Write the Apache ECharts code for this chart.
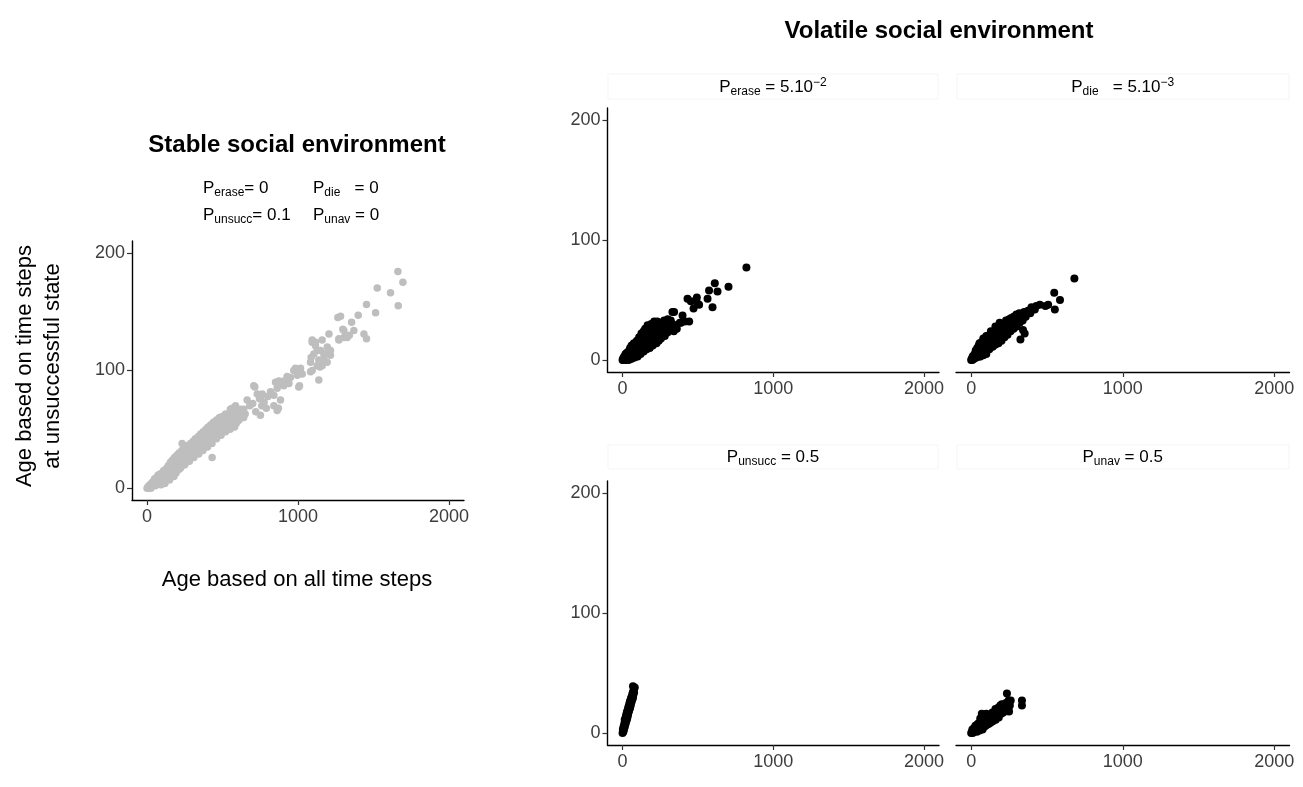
<!DOCTYPE html>
<html><head><meta charset="utf-8">
<script src="https://cdn.jsdelivr.net/npm/echarts@6/dist/echarts.min.js"></script>
<style>html,body{margin:0;padding:0;background:#fff}#c{width:1303px;height:787px}</style>
</head><body><div id="c"></div>
<script>
// ---------- data ----------
const xTicks = [0, 1000, 2000];
const yTicks = [0, 100, 200];

const stableTitle = 'Stable social environment';
const volatileTitle = 'Volatile social environment';
const xAxisTitle = 'Age based on all time steps';
const yAxisTitle = 'Age based on time steps\nat unsuccessful state';

// Stable social environment (grey)
const stable = [
[0,0],[5,1],[10,0],[12,2],[18,1],[20,3],[25,0],[28,4],[32,2],[35,5],[40,3],[42,6],[48,4],[50,8],[55,2],[58,6],[62,9],[65,4],[70,7],[72,11],[78,5],[80,9],[85,12],[88,7],[92,3],[95,10],[100,13],[102,6],[108,9],[110,15],[115,11],[118,4],[122,14],[125,8],[130,17],[132,12],[138,10],[140,19],[145,14],[148,7],[152,16],[155,22],[160,12],[162,18],[168,24],[170,15],[175,20],[178,10],[182,26],[185,17],[190,22],[192,13],[198,28],[200,19],[205,24],[210,16],[212,30],[218,21],[220,26],[225,18],[230,32],[232,38],[238,28],[240,20],[245,34],[248,25],[255,30],[258,22],[262,36],[265,27],[270,32],[275,24],[280,35],[282,29],[288,38],[290,31],[295,26],[300,34],[305,40],[308,28],[312,36],[318,32],[320,42],[325,30],[330,38],[335,34],[340,44],[342,29],[348,40],[350,36],[355,46],[360,33],[362,42],[368,38],[372,48],[375,35],[380,44],[385,40],[390,50],[392,37],[398,46],[400,42],[405,52],[410,39],[415,48],[418,44],[422,54],[428,41],[430,50],[431,26],[435,46],[440,56],[445,43],[450,52],[455,48],[460,58],[465,45],[470,54],[475,50],[480,60],[485,47],[490,56],[495,52],[500,61],[505,49],[510,58],[518,54],[520,63],[528,51],[535,60],[540,56],[548,64],[552,67],[555,53],[560,62],[564,68],[570,58],[575,66],[586,70],[585,60],[590,55],[600,64],[610,58],[620,67],[630,62],[640,60],
[150,20],[170,23],[190,25],[210,27],[230,28],[250,33],[270,35],[290,37],[310,39],[330,41],[350,43],[370,45],[390,47],[410,49],[430,53],[450,55],[470,57],[490,59],[510,61],[530,62],[550,60],[160,10],[190,15],[220,17],[250,20],[280,23],[310,26],[340,30],[370,32],[400,35],[430,38],[460,42],[490,45],[520,48],[550,50],[580,52],[600,57],[620,60],[650,63],[640,67],[610,63],
[663,75],[680,70],[700,72],[707,87],[714,86],[720,65],[730,80],[745,76],[751,77],[760,70],[763,80],[775,73],[790,68],[751,62],[800,78],[818,82],[840,79],[840,70],[862,66],[870,68],[884,75],
[851,90],[862,85],[873,91],[895,89],[906,87],[907,91],[928,92],[928,95],[940,89],[950,94],[972,100],[983,100],[983,102],[995,96],[1005,97],[1005,86],[1010,87],[1017,102],[1028,97],
[1083,99],[1083,107],[1087,111],[1094,100],[1094,124],[1094,126],[1105,114],[1116,121],[1116,124],[1127,104],[1127,117],[1138,92],[1138,109],[1145,103],[1149,108],[1149,117],[1160,104],[1160,126],[1171,110],[1171,114],[1182,114],[1193,107],[1194,120],[1204,117],[1205,131],[1215,113],[1215,117],
[1264,145],[1282,146],[1271,126],[1271,127],[1297,135],[1304,134],[1304,128],[1326,128],[1340,130],[1355,141],[1370,134],[1399,147],[1437,131],[1454,127],[1454,156],[1514,149],[1525,170],[1613,166],[1662,184],[1664,155],[1695,175]
];

// Volatile: P_erase = 5.10^-2
const pErase = [
[0,0],[3,1],[6,0],[8,2],[10,0],[12,3],[15,1],[18,4],[20,2],[22,0],[25,5],[28,3],[30,1],[32,6],[35,4],[38,2],[40,7],[42,5],[45,3],[48,8],[50,6],[52,1],[55,4],[58,9],[60,7],[62,3],[65,10],[68,5],[70,8],[72,2],[75,11],[78,6],[80,9],[82,4],[85,12],[88,7],[90,10],[92,5],[95,13],[98,8],[100,11],[102,6],[105,14],[108,9],[110,19],[112,7],[115,15],[118,10],[120,13],[125,22],[128,16],[130,11],[135,14],[138,9],[140,24],[145,12],[148,18],[150,26],[155,10],[158,19],[160,13],[165,16],[166,29],[168,20],[170,12],[175,17],[178,21],[180,14],[185,19],[188,23],[190,30],[195,20],[198,13],[200,24],[205,18],[206,28],[210,32],[212,15],[215,25],[220,19],[222,27],[228,21],[230,32],[232,17],[235,26],[240,23],[245,19],[248,28],[252,24],[258,21],[262,29],[265,25],[270,22],[275,27],[276,33],[280,24],[285,30],[290,26],[298,23],[300,34],[305,28],[315,25],[325,27],[331,40],[340,24],
[20,5],[30,6],[45,8],[55,10],[65,6],[75,9],[85,8],[95,10],[105,11],[115,12],[125,13],[135,18],[145,20],[155,16],[165,22],[175,24],[185,26],[195,27],[200,21],[210,24],[220,28],[230,25],[240,29],[250,31],[260,27],[270,30],[280,28],[290,31],[300,30],[310,31],[320,33],[330,30],[350,29],[360,26],[280,20],[255,18],[240,16],[225,14],[200,12],[180,10],[160,9],[140,7],[120,5],[100,3],[80,2],[60,1],[40,0],[115,17],[95,16],[75,14],[60,12],[50,10],
[342,40],[380,31],[387,31],[398,37],[413,32],[431,51],[442,32],[453,49],[471,43],[493,52],[497,47],[508,46],[564,51],[574,58],[597,44],[612,64],[630,57],[703,61],[822,77]
];

// Volatile: P_die = 5.10^-3
const pDie = [
[0,0],[4,1],[8,0],[10,3],[14,2],[18,4],[20,1],[24,5],[28,3],[30,6],[34,2],[38,7],[40,10],[44,8],[48,5],[50,9],[54,3],[55,14],[58,10],[60,7],[64,11],[68,6],[70,12],[74,8],[78,13],[80,18],[84,10],[88,14],[90,9],[94,15],[98,11],[100,20],[105,16],[108,12],[112,17],[115,10],[120,14],[124,18],[128,13],[130,24],[135,19],[138,15],[142,11],[145,20],[150,16],[155,22],[158,13],[160,28],[162,18],[166,23],[170,15],[175,20],[178,25],[182,17],[188,31],[188,22],[192,26],[196,19],[200,24],[205,28],[210,21],[215,26],[220,30],[225,23],[230,28],[235,32],[240,25],[245,30],[250,34],[255,27],[260,31],[265,35],[270,29],[275,33],[280,36],[285,30],[290,34],[298,38],[305,32],[310,36],[318,39],[325,34],[325,17],[332,38],[342,25],[350,40],[353,22],[360,36],[375,41],[390,39],[398,43],
[20,4],[30,8],[50,12],[70,15],[90,17],[110,20],[130,21],[150,24],[170,26],[190,28],[210,30],[230,33],[250,29],[270,32],[300,35],[320,37],[340,38],[360,39],[380,40],[100,5],[120,9],[140,12],[160,13],[180,14],[200,16],[220,19],[240,21],[260,24],[280,26],[300,28],[320,31],[340,33],[60,3],[80,4],[110,14],[150,19],[200,20],[250,26],
[398,44],[420,42],[430,45],[453,46],[490,45],[508,46],[548,56],[552,42],[586,50],[681,68]
];

// Volatile: P_unsucc = 0.5
const pUnsucc = [
[0,0],[4,1],[8,2],[2,3],[10,4],[6,5],[14,5],[10,6],[18,7],[12,8],[20,8],[16,9],[24,10],[14,11],[28,11],[20,12],[32,13],[22,14],[30,15],[36,15],[26,16],[38,17],[30,18],[42,18],[34,19],[46,20],[38,21],[50,21],[40,22],[54,23],[44,24],[56,25],[48,26],[60,26],[52,27],[64,28],[56,29],[68,29],[60,30],[70,31],[64,32],[72,33],[68,34],[74,35],[72,32],[69,39],[81,38],[76,34],[66,31],[58,28],[50,24],[44,20],[36,17],[28,13],[22,10],[16,7],[8,4],[3,1]
];

// Volatile: P_unav = 0.5
const pUnav = [
[0,0],[5,1],[8,3],[10,0],[15,2],[18,4],[20,1],[25,3],[28,6],[30,2],[35,5],[38,1],[40,7],[45,3],[48,8],[50,5],[55,2],[58,9],[60,6],[65,4],[68,10],[70,16],[72,7],[75,3],[78,11],[80,8],[85,5],[88,12],[90,15],[92,9],[95,6],[100,13],[105,10],[108,7],[112,14],[115,11],[120,8],[125,15],[128,12],[132,9],[138,16],[140,13],[145,10],[150,17],[155,14],[160,20],[162,11],[168,18],[172,15],[178,21],[182,13],[188,19],[192,23],[198,16],[202,24],[208,20],[212,17],[218,22],[225,19],[230,25],[236,33],[240,21],[247,27],[250,18],[255,23],[261,27],[335,27],[335,23],
[30,5],[50,8],[70,10],[90,12],[110,10],[130,14],[150,13],[170,18],[190,16],[210,21],[230,22],[245,20],[100,8],[120,11],[140,17],[160,15],[180,17],[200,19],[220,24],[250,24],[60,12],[80,14],[100,16],[40,4],[20,3]
];

// strip labels: [main, subscript, rest, superscript]
const stripLabels = [
  ['P', 'erase', ' = 5.10', '\u22122'],
  ['P', 'die', '   = 5.10', '\u22123'],
  ['P', 'unsucc', ' = 0.5', ''],
  ['P', 'unav', ' = 0.5', '']
];
// stable parameter labels: [sub, rest]
const stableParams = [
  ['erase', '= 0'], ['die', '   = 0'],
  ['unsucc', '= 0.1'], ['unav', ' = 0']
];

// ---------- layout ----------
const FONT = 'Liberation Sans, Arial, Helvetica, sans-serif';
const grids = [
  {left: 132, top: 241, width: 332, height: 259},
  {left: 607.5, top: 108, width: 331.5, height: 264},
  {left: 956, top: 108, width: 333.5, height: 264},
  {left: 607.5, top: 481, width: 331.5, height: 264},
  {left: 956, top: 481, width: 333.5, height: 264}
];
const seriesData = [stable, pErase, pDie, pUnsucc, pUnav];
const showY = [true, true, false, true, false];
const fmt = v => String(v);

const xAxes = grids.map((g, i) => ({
  type: 'value', gridIndex: i, min: -100, max: 2100,
  splitLine: {show: false},
  axisLine: {show: true, onZero: false, lineStyle: {color: '#000', width: 1.4}},
  axisTick: {show: true, customValues: xTicks, length: 5, lineStyle: {color: '#333', width: 1.2}},
  axisLabel: {customValues: xTicks, formatter: fmt, margin: 8, fontSize: 18, color: '#3d3d3d', fontFamily: FONT}
}));
const yAxes = grids.map((g, i) => ({
  type: 'value', gridIndex: i, min: -10, max: 210,
  splitLine: {show: false},
  axisLine: {show: showY[i], onZero: false, lineStyle: {color: '#000', width: 1.4}},
  axisTick: {show: showY[i], customValues: yTicks, length: 5, lineStyle: {color: '#333', width: 1.2}},
  axisLabel: {show: showY[i], customValues: yTicks, formatter: fmt, margin: 7, fontSize: 18, color: '#3d3d3d', fontFamily: FONT}
}));
const series = seriesData.map((d, i) => ({
  type: 'scatter', xAxisIndex: i, yAxisIndex: i, data: d,
  symbolSize: i === 0 ? 7.5 : 8, silent: true,
  itemStyle: {color: i === 0 ? '#bebebe' : '#000', opacity: 1}
}));

const richBase = {
  p: {fontSize: 17, color: '#1a1a1a', fontFamily: FONT},
  s: {fontSize: 12, color: '#1a1a1a', fontFamily: FONT, padding: [10, 0, 0, 0]},
  u: {fontSize: 12, color: '#1a1a1a', fontFamily: FONT, padding: [0, 0, 9, 0]}
};

const graphics = [];
// titles
graphics.push({type: 'text', x: 297, y: 145, style: {text: stableTitle, font: 'bold 24px ' + FONT, fill: '#000', textAlign: 'center', textVerticalAlign: 'middle'}});
graphics.push({type: 'text', x: 939, y: 31, style: {text: volatileTitle, font: 'bold 24px ' + FONT, fill: '#000', textAlign: 'center', textVerticalAlign: 'middle'}});
// axis titles
graphics.push({type: 'text', x: 297, y: 580, style: {text: xAxisTitle, font: '22px ' + FONT, fill: '#000', textAlign: 'center', textVerticalAlign: 'middle'}});
graphics.push({type: 'text', x: 39, y: 366, rotation: Math.PI / 2, style: {text: yAxisTitle, font: '22px ' + FONT, lineHeight: 28, fill: '#000', textAlign: 'center', textVerticalAlign: 'middle'}});
// stable params
const paramPos = [[203, 188], [313, 188], [203, 215], [313, 215]];
stableParams.forEach((pp, i) => {
  graphics.push({type: 'text', x: paramPos[i][0], y: paramPos[i][1],
    style: {text: '{p|P}{s|' + pp[0] + '}{p|' + pp[1] + '}', rich: richBase, textAlign: 'left', textVerticalAlign: 'middle'}});
});
// strips
const stripCenters = [[773, 87], [1122.7, 87], [773, 457], [1122.7, 457]];
const stripRects = [[608, 74, 330, 25], [957, 74, 332, 25], [608, 445, 330, 24], [957, 445, 332, 24]];
stripLabels.forEach((lab, i) => {
  const r = stripRects[i];
  graphics.push({type: 'rect', shape: {x: r[0], y: r[1], width: r[2], height: r[3]}, style: {fill: 'none', stroke: '#f5f5f5', lineWidth: 1}, z: 0});
  let t = '{p|' + lab[0] + '}{s|' + lab[1] + '}{p|' + lab[2] + '}';
  if (lab[3]) t += '{u|' + lab[3] + '}';
  graphics.push({type: 'text', x: stripCenters[i][0], y: stripCenters[i][1],
    style: {text: t, rich: richBase, textAlign: 'center', textVerticalAlign: 'middle'}});
});

const chart = echarts.init(document.getElementById('c'), null, {renderer: 'canvas'});
chart.setOption({
  animation: false,
  backgroundColor: '#fff',
  grid: grids,
  xAxis: xAxes,
  yAxis: yAxes,
  series: series,
  graphic: graphics
});
</script>
</body></html>
